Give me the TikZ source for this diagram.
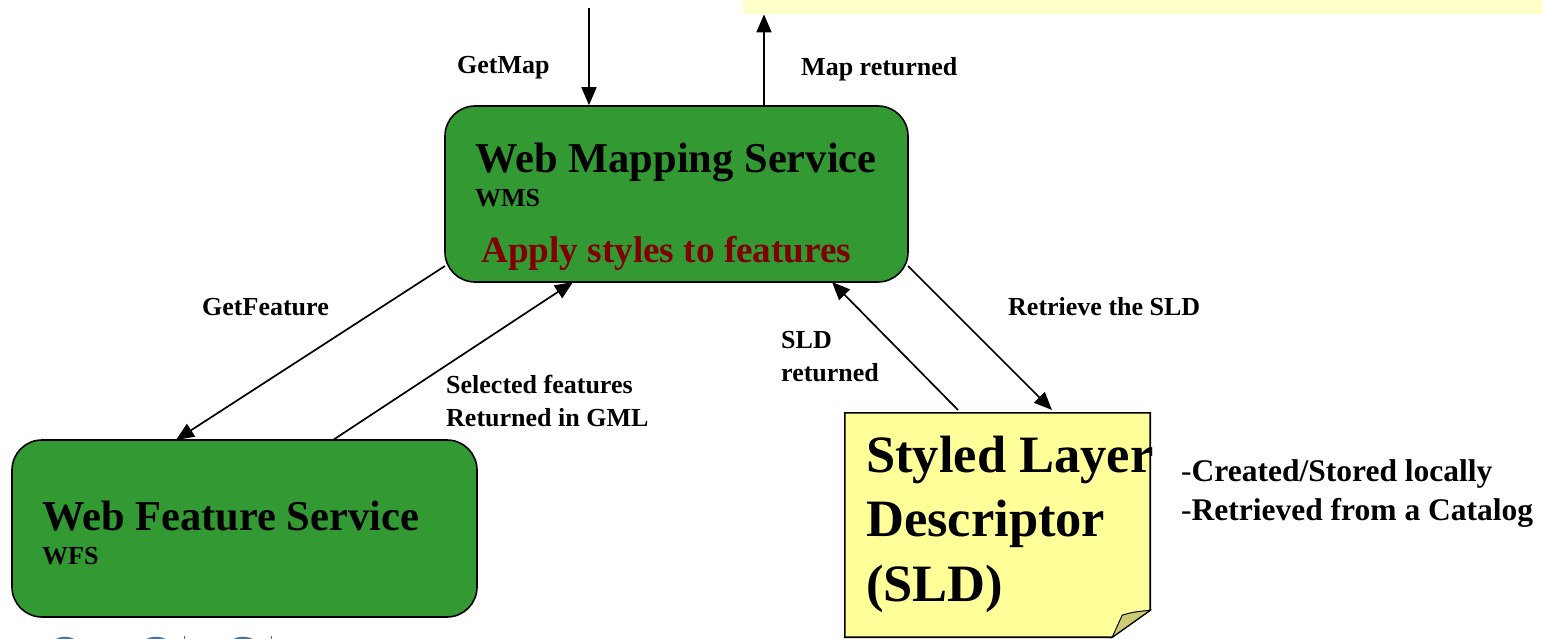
\documentclass[tikz,border=0pt]{standalone}
\usepackage{fontspec}
\setmainfont{Liberation Serif}
\usetikzlibrary{arrows.meta,calc}
\definecolor{boxgreen}{HTML}{339933}
\definecolor{noteyellow}{HTML}{FFFF99}
\definecolor{stripyellow}{HTML}{FFFFCC}
\definecolor{folded}{HTML}{CCCC77}
\definecolor{darkred}{HTML}{800000}
\definecolor{logoblue}{HTML}{4C7396}
\tikzset{
  svcbox/.style={draw=black, line width=1.6pt, fill=boxgreen, rounded corners=30pt, inner sep=0pt},
  bigtitle/.style={anchor=base west, inner sep=0pt, font=\fontsize{42.5}{48}\selectfont\bfseries},
  subtitle/.style={anchor=base west, inner sep=0pt, font=\fontsize{26}{30}\selectfont\bfseries},
  lbl/.style={anchor=base west, inner sep=0pt, font=\fontsize{26}{33}\selectfont\bfseries, align=left},
  arr/.style={line width=1.7pt, -{Triangle[length=18pt,width=15pt]}},
}
\begin{document}
\begin{tikzpicture}[x=1pt,y=-1pt]
\useasboundingbox (0,0) rectangle (1543,639);
% top strip
\node[fill=stripyellow, inner sep=0pt, minimum width=800pt, minimum height=14pt, anchor=north west] (topbar) at (743,0) {};
% boxes
\node[svcbox, minimum width=463pt, minimum height=176pt] (wms) at (676.5,194) {};
\node[svcbox, minimum width=465pt, minimum height=177pt] (wfs) at (244.5,528.5) {};
\node[inner sep=0pt, minimum width=305pt, minimum height=224pt] (sld) at (997.5,525) {};
\draw[line width=1.6pt, fill=noteyellow] (sld.north west) -- (sld.north east) -- ($(sld.south east)+(0,-27)$) -- ($(sld.south east)+(-38,0)$) -- (sld.south west) -- cycle;
\draw[line width=1pt, fill=folded] ($(sld.south east)+(0,-27)$) .. controls ($(sld.south east)+(-18,-25)$) .. ($(sld.south east)+(-28,-22)$) -- ($(sld.south east)+(-38,0)$) -- cycle;
% texts in boxes
\node[bigtitle] (wmst) at (475,173) {Web Mapping Service};
\node[subtitle] (wmss) at (475,207) {WMS};
\node[anchor=base west, inner sep=0pt, font=\fontsize{37.2}{42}\selectfont\bfseries, text=darkred] (wmsa) at (481,263) {Apply styles to features};
\node[bigtitle] (wfst) at (42,530) {Web Feature Service};
\node[subtitle] (wfss) at (42,564) {WFS};
\node[anchor=base west, inner sep=0pt, font=\fontsize{52.5}{64.5}\selectfont\bfseries, align=left] (sldt) at (866,601) {Styled Layer\\Descriptor\\(SLD)};
\node[anchor=base west, inner sep=0pt, font=\fontsize{31.5}{38.5}\selectfont, align=left] (sldn) at (1181,520) {-\textbf{Created/Stored locally}\\-\textbf{Retrieved from a Catalog}};
% connector end points
\coordinate (gm) at (589,8);
\coordinate (mr) at (764,0);
\coordinate (gfa) at (445,266);
\coordinate (gfb) at (176,440);
\coordinate (sfa) at (333,440);
\coordinate (sfb) at (573,282);
\coordinate (sra) at (958,410);
\coordinate (srb) at (832,282);
\coordinate (rta) at (908,266);
\coordinate (rtb) at (1052,410);
\draw[arr] (gm) -- (gm |- wms.north);
\draw[arr] (mr |- wms.north) -- (mr |- topbar.south);
\draw[arr] (gfa) -- (gfb);
\draw[arr] (sfa) -- (sfb);
\draw[arr] (sra) -- (srb);
\draw[arr] (rta) -- (rtb);
% labels
\node[lbl] (l1) at (457,74) {GetMap};
\node[lbl] (l2) at (801,76) {Map returned};
\node[lbl] (l3) at (202,316) {GetFeature};
\node[lbl] (l4) at (446,426) {Selected features\\Returned in GML};
\node[lbl] (l5) at (781,381) {SLD\\returned};
\node[lbl] (l6) at (1008,316) {Retrieve the SLD};
% logo fragment
\begin{scope}
\clip (0,632) rectangle (1543,639);
\draw[logoblue, line width=2.5pt] (50,650) arc[start angle=180, end angle=0, x radius=15pt, y radius=12pt];
\draw[logoblue, line width=2.5pt] (140,650) arc[start angle=180, end angle=0, x radius=16pt, y radius=12pt];
\draw[logoblue, line width=2.5pt] (227,650) arc[start angle=180, end angle=0, x radius=16pt, y radius=12pt];
\draw[logoblue, line width=1pt] (184,636) -- (184,639);
\draw[logoblue, line width=1pt] (271,636) -- (271,639);
\end{scope}
\end{tikzpicture}
\end{document}
